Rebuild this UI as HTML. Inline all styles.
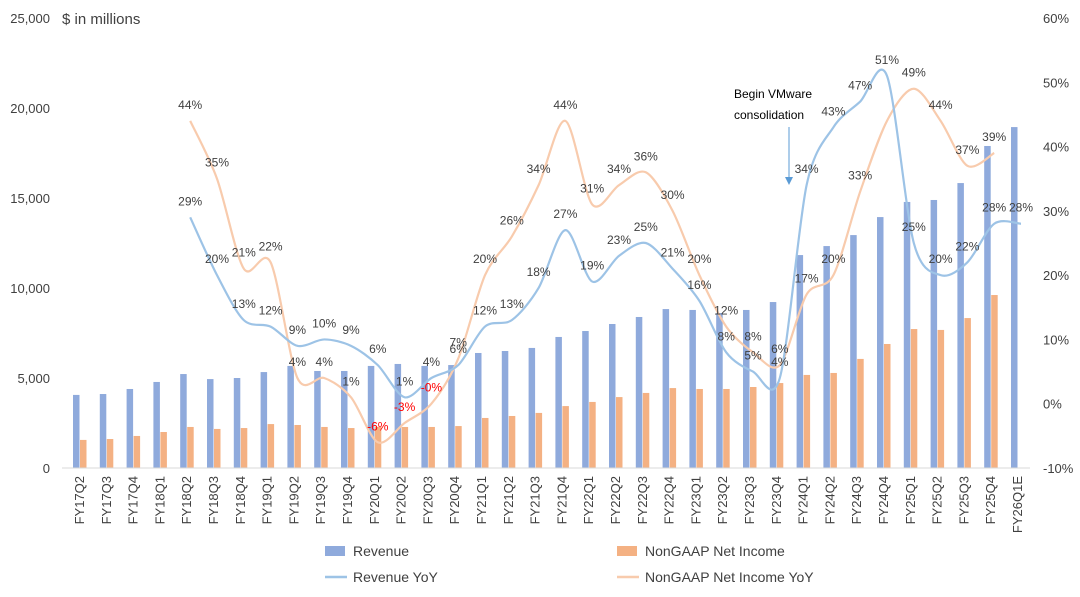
<!DOCTYPE html>
<html><head><meta charset="utf-8"><style>
body{margin:0;background:#fff;}
svg{display:block;font-family:"Liberation Sans","Noto Sans CJK SC",sans-serif;}
</style></head><body>
<svg id="chart" width="1080" height="597"></svg>
<script>
const categories=["FY17Q2","FY17Q3","FY17Q4","FY18Q1","FY18Q2","FY18Q3","FY18Q4","FY19Q1","FY19Q2","FY19Q3","FY19Q4","FY20Q1","FY20Q2","FY20Q3","FY20Q4","FY21Q1","FY21Q2","FY21Q3","FY21Q4","FY22Q1","FY22Q2","FY22Q3","FY22Q4","FY23Q1","FY23Q2","FY23Q3","FY23Q4","FY24Q1","FY24Q2","FY24Q3","FY24Q4","FY25Q1","FY25Q2","FY25Q3","FY25Q4","FY26Q1E"];
const revenue=[4060,4110,4390,4780,5220,4940,5000,5330,5670,5390,5390,5670,5780,5670,5720,6390,6500,6670,7280,7610,8000,8390,8830,8780,8610,8780,9220,11830,12330,12940,13940,14780,14890,15830,17890,18940];
const netIncome=[1560,1610,1780,2000,2280,2170,2220,2440,2390,2280,2220,2280,2280,2280,2330,2780,2890,3060,3440,3670,3940,4170,4440,4390,4390,4500,4720,5170,5280,6060,6890,7720,7670,8330,9610,null];
const revenueYoY=[null,null,null,null,29,20,13,12,9,10,9,6,1,4,6,12,13,18,27,19,23,25,21,16,8,5,4,34,43,47,51,25,20,22,28,28];
const incomeYoY=[null,null,null,null,44,35,21,22,4,4,1,-6,-3,-0,7,20,26,34,44,31,34,36,30,20,12,8,6,17,20,33,44,49,44,37,39,null];
const incomeYoYLabels=[null,null,null,null,"44%","35%","21%","22%","4%","4%","1%","-6%","-3%","-0%","7%","20%","26%","34%","44%","31%","34%","36%","30%","20%","12%","8%","6%","17%","20%","33%",null,"49%","44%","37%","39%",null];
const leftTicks=[0,5000,10000,15000,20000,25000];
const rightTicks=[-10,0,10,20,30,40,50,60];

const svg=document.getElementById('chart');
const NS='http://www.w3.org/2000/svg';
const x0=80,step=26.8;
const xc=i=>x0+i*step;
const yL=v=>468-v*0.018;
const yR=p=>468-(p+10)*6.4286;
function mk(tag,attrs,parent){const e=document.createElementNS(NS,tag);for(const k in attrs)e.setAttribute(k,attrs[k]);(parent||svg).appendChild(e);return e;}
function txt(s,attrs){const e=mk('text',attrs);e.textContent=s;return e;}

leftTicks.forEach(v=>{
  const t=txt(v.toLocaleString('en-US'),{x:50,y:yL(v)+5,'text-anchor':'end','font-size':13,fill:'#404040'});
  
  
});
rightTicks.forEach(p=>{
  const t=txt(p+'%',{x:1043,y:yR(p)+5,'font-size':13,fill:'#404040'});
  
  
});
const unit=txt('$ in millions',{x:62,y:24,'font-size':15,fill:'#404040'});



revenue.forEach((v,i)=>{
  const b=mk('rect',{x:xc(i)-7,y:yL(v),width:6.5,height:468-yL(v),fill:'#8faadc'});
  
  
});
netIncome.forEach((v,i)=>{
  if(v==null)return;
  const b=mk('rect',{x:xc(i),y:yL(v),width:6.5,height:468-yL(v),fill:'#f4b183'});
  
  
});
const base=mk('line',{x1:62,x2:1030,y1:468,y2:468,stroke:'#d9d9d9','stroke-width':1});



categories.forEach((c,i)=>{
  const t=txt(c,{x:0,y:0,'font-size':13,fill:'#404040','text-anchor':'end',transform:`translate(${xc(i)+4},476) rotate(-90)`});
  
  
});

function smooth(pts){
  let d=`M${pts[0][0]},${pts[0][1]}`;
  for(let i=0;i<pts.length-1;i++){
    const p0=pts[i-1]||pts[i],p1=pts[i],p2=pts[i+1],p3=pts[i+2]||p2;
    const t=0.15;
    d+=` C${p1[0]+(p2[0]-p0[0])*t},${p1[1]+(p2[1]-p0[1])*t} ${p2[0]-(p3[0]-p1[0])*t},${p2[1]-(p3[1]-p1[1])*t} ${p2[0]},${p2[1]}`;
  }
  return d;
}
function series(vals,color,name){
  const pts=[];vals.forEach((v,i)=>{if(v!=null)pts.push([xc(i)+3,yR(v)]);});
  const p=mk('path',{d:smooth(pts),fill:'none',stroke:color,'stroke-width':2.2});
  
  
}
series(incomeYoY,'#f8cbad','net-income-yoy-line');
series(revenueYoY,'#9dc3e6','revenue-yoy-line');

revenueYoY.forEach((v,i)=>{
  if(v==null)return;
  const t=txt(v+'%',{x:xc(i)+3,y:yR(v)-12,'font-size':12,fill:'#404040','text-anchor':'middle'});
  
  
});
incomeYoY.forEach((v,i)=>{
  const s=incomeYoYLabels[i];
  if(v==null||s==null)return;
  const t=txt(s,{x:xc(i)+3,y:yR(v)-12,'font-size':12,fill:(v<0||s==='-0%')?'#ff0000':'#404040','text-anchor':'middle'});
  
  
});

const a1=txt('Begin VMware',{x:734,y:98,'font-size':12,fill:'#000'});


const a2=txt('consolidation',{x:734,y:119,'font-size':12,fill:'#000'});


const ar=mk('line',{x1:789,y1:127,x2:789,y2:178,stroke:'#5b9bd5','stroke-width':1});


const ah=mk('path',{d:'M785,177 L793,177 L789,185 Z',fill:'#5b9bd5'});



const lg=[[325,551,'rect','#8faadc','Revenue'],[617,551,'rect','#f4b183','NonGAAP Net Income'],[325,577,'line','#9dc3e6','Revenue YoY'],[617,577,'line','#f8cbad','NonGAAP Net Income YoY']];
lg.forEach(([x,y,k,c,l])=>{
  const sw=k==='rect'?mk('rect',{x:x,y:y-5,width:20,height:10,fill:c}):mk('line',{x1:x,x2:x+22,y1:y,y2:y,stroke:c,'stroke-width':2.5});
  
  
  const t=txt(l,{x:x+28,y:y+5,'font-size':14,fill:'#404040'});
  
  
});
</script>
</body></html>
